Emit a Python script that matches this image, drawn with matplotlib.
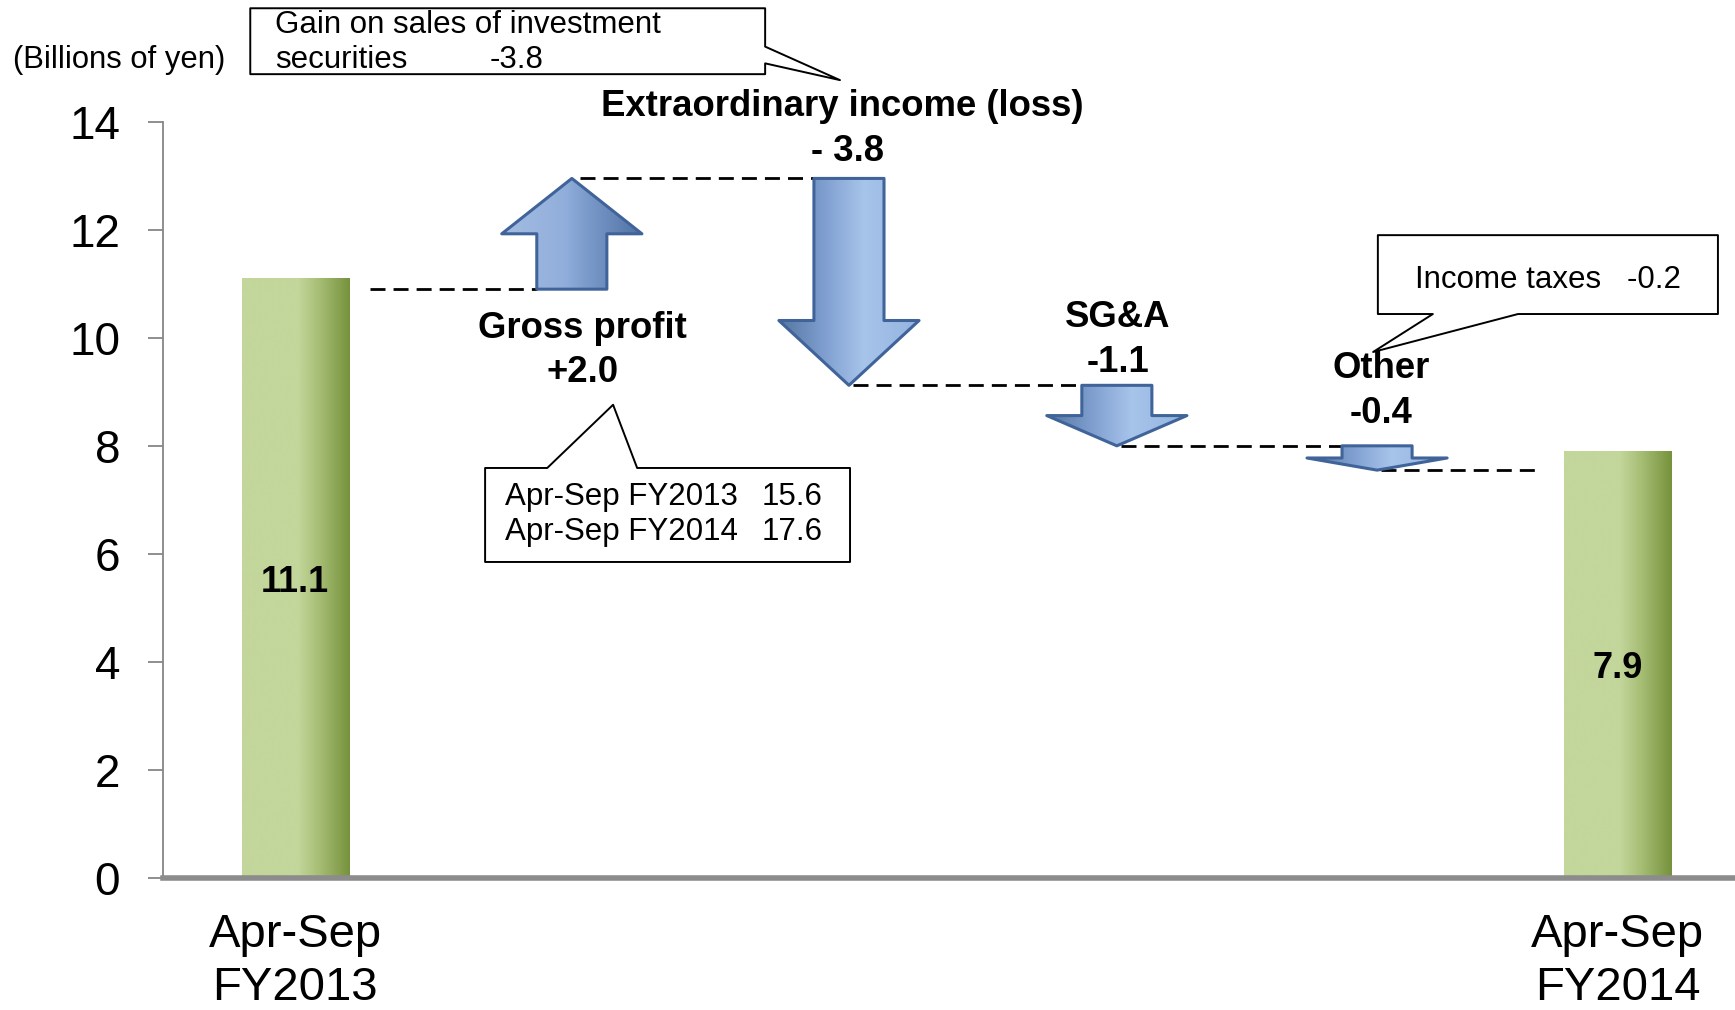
import numpy as np
import matplotlib
matplotlib.use("Agg")
import matplotlib.pyplot as plt
from matplotlib.colors import LinearSegmentedColormap
from matplotlib.patches import Polygon

plt.rcParams['font.family'] = ['Liberation Sans', 'DejaVu Sans']

# ---------------- data ----------------
bar_labels = ["Apr-Sep\nFY2013", "Apr-Sep\nFY2014"]
bar_values = [11.1, 7.9]
step_names = ["Gross profit", "Extraordinary income (loss)", "SG&A", "Other"]
step_changes = ["+2.0", "- 3.8", "-1.1", "-0.4"]
step_levels = [10.9, 12.95, 9.12, 8.0, 7.55]   # start/end levels of the arrows as drawn
y_ticks = [0, 2, 4, 6, 8, 10, 12, 14]
unit_label = "(Billions of yen)"
gp_lines = ["Apr-Sep FY2013", "Apr-Sep FY2014"]
gp_values = ["15.6", "17.6"]
gain_lines = ["Gain on sales of investment", "securities"]
gain_value = "-3.8"
tax_text = "Income taxes   -0.2"

# ---------------- layout ----------------
bar_x = [0, 5]
arrow_x = [1.046, 2.094, 3.107, 4.091]
bar_w = 0.405
shaft_w = 0.265
head_w = 0.53
note_fs = 22.5

fig = plt.figure(figsize=(17.35, 10.1), dpi=100)
ax = fig.add_axes([0.09395, 0.13069, 0.9049, 0.74881])

grad = np.linspace(0, 1, 256).reshape(1, -1)
green = LinearSegmentedColormap.from_list("g", [(0, '#c3d69b'), (0.52, '#c3d69b'),
                                                 (0.72, '#a6bd74'), (1, '#76923c')])
up_cmap = LinearSegmentedColormap.from_list("u", [(0, '#a3bde2'), (0.45, '#91aedb'),
                                                   (0.6, '#7b9bcb'), (1, '#4f70a3')])
down_cmap = LinearSegmentedColormap.from_list("d", [(0, '#54769f'), (0.3, '#7c9ccd'),
                                                     (0.6, '#a7c4ea'), (1, '#93b3df')])
edge = '#40649a'

# bars with gradient
bars = ax.bar(bar_x, bar_values, width=bar_w, color='none', edgecolor='none', zorder=2)
for p, v in zip(bars.patches, bar_values):
    x0, w, h = p.get_x(), p.get_width(), p.get_height()
    im = ax.imshow(grad, cmap=green, aspect='auto', extent=[x0, x0 + w, 0, h],
                   zorder=2, interpolation='bilinear')
    im.set_clip_path(p)
    ax.text(x0 + w / 2, h / 2 - 0.08, f"{v:.1f}", ha='center', va='center',
            fontsize=26, fontweight='bold', zorder=5)


def draw_arrow(x, y0, y1):
    L = abs(y1 - y0)
    d = 1 if y1 > y0 else -1
    hl = min(0.5 * L, 1.2)
    neck = y1 - d * hl
    verts = [(x - shaft_w / 2, y0), (x - shaft_w / 2, neck), (x - head_w / 2, neck),
             (x, y1), (x + head_w / 2, neck), (x + shaft_w / 2, neck), (x + shaft_w / 2, y0)]
    poly = Polygon(verts, closed=True, facecolor='none', edgecolor=edge, lw=2.2,
                   joinstyle='round', zorder=4)
    ax.add_patch(poly)
    cm = up_cmap if d > 0 else down_cmap
    im = ax.imshow(grad, cmap=cm, aspect='auto',
                   extent=[x - head_w / 2, x + head_w / 2, min(y0, y1), max(y0, y1)],
                   zorder=3, interpolation='bilinear')
    im.set_clip_path(poly)


for i, x in enumerate(arrow_x):
    draw_arrow(x, step_levels[i], step_levels[i + 1])

# dashed connectors
for i, lvl in enumerate(step_levels):
    if i == 0:
        xs = bar_x[0] + bar_w / 2 + 0.08
    else:
        xs = arrow_x[i - 1] + (0.03 if i == 1 else 0.015)
    if i < len(arrow_x):
        xe = arrow_x[i] - shaft_w / 2
    else:
        xe = bar_x[1] - bar_w / 2 - 0.1
    ax.plot([xs, xe], [lvl, lvl], color='black', lw=2, ls=(0, (5.4, 2.9)), zorder=3)

# step labels
name_pos = [(1.085, 10.17), (2.07, 14.29), (3.11, 10.37), (4.106, 9.43)]
val_pos = [(1.085, 9.35), (2.088, 13.45), (3.11, 9.55), (4.106, 8.59)]
for n, c, npos, vpos in zip(step_names, step_changes, name_pos, val_pos):
    ax.text(*npos, n, ha='center', va='center', fontsize=26.3, fontweight='bold',
            zorder=6, clip_on=False)
    ax.text(*vpos, c, ha='center', va='center', fontsize=26.3, fontweight='bold',
            zorder=6, clip_on=False)

# callouts
def callout(verts):
    ax.add_patch(Polygon(verts, closed=True, facecolor='white', edgecolor='black',
                         lw=1.4, joinstyle='round', zorder=7, clip_on=False))

callout([(-0.170, 16.10), (1.777, 16.10), (1.777, 15.39), (2.06, 14.77),
         (1.777, 15.08), (1.777, 14.88), (-0.170, 14.88)])
ax.text(-0.0756, 15.64, gain_lines[0], ha='left', va='baseline', fontsize=note_fs, zorder=8, clip_on=False)
ax.text(-0.0756, 15.0, gain_lines[1], ha='left', va='baseline', fontsize=note_fs, zorder=8, clip_on=False)
ax.text(0.737, 15.0, gain_value, ha='left', va='baseline', fontsize=note_fs, zorder=8, clip_on=False)

callout([(0.718, 7.59), (0.953, 7.59), (1.202, 8.76), (1.293, 7.59),
         (2.098, 7.59), (2.098, 5.85), (0.718, 5.85)])
for txt, val, yb in zip(gp_lines, gp_values, [6.905, 6.257]):
    ax.text(0.794, yb, txt, ha='left', va='baseline', fontsize=note_fs, zorder=8)
    ax.text(1.762, yb, val, ha='left', va='baseline', fontsize=note_fs, zorder=8)

callout([(4.094, 11.90), (5.380, 11.90), (5.380, 10.44), (4.624, 10.44),
         (4.076, 9.737), (4.302, 10.44), (4.094, 10.44)])
ax.text(4.235, 10.92, tax_text, ha='left', va='baseline', fontsize=note_fs, zorder=8)

# axes styling
ax.set_xlim(-0.5, 5.437)
ax.set_ylim(0, 14)
ax.set_yticks(y_ticks)
ax.set_yticklabels([str(t) for t in y_ticks])
ax.set_xticks(bar_x)
ax.set_xticklabels(bar_labels, linespacing=1.27)
ax.tick_params(axis='y', direction='out', length=10.8, width=1.3, color='#868686',
               labelsize=33, pad=20)
ax.tick_params(axis='x', length=0, labelsize=34, pad=25)
for s in ['top', 'right']:
    ax.spines[s].set_visible(False)
ax.spines['left'].set_color('#868686')
ax.spines['left'].set_linewidth(1.3)
ax.spines['bottom'].set_color('#8c8c8c')
ax.spines['bottom'].set_linewidth(4)
ax.spines['bottom'].set_zorder(6)

fig.text(0.0689, 0.9408, unit_label, ha='center', va='center', fontsize=22.3)

fig.savefig("out.png", dpi=100)
